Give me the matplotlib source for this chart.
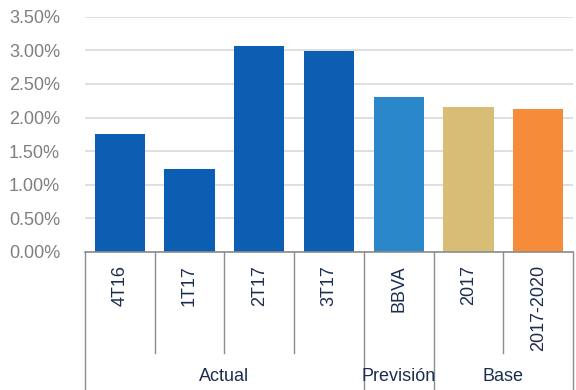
import matplotlib
matplotlib.use("Agg")

import matplotlib.pyplot as plt
import matplotlib.transforms as mtransforms
import numpy as np

plt.rcParams["font.family"] = ["Liberation Sans", "DejaVu Sans"]

categories = ["4T16", "1T17", "2T17", "3T17", "BBVA", "2017", "2017-2020"]
values = [1.76, 1.23, 3.07, 2.99, 2.31, 2.16, 2.13]
groups = ["Actual", "Previsión", "Base"]
group_sizes = [4, 1, 2]
bar_colors = ["#0b5eb1", "#0b5eb1", "#0b5eb1", "#0b5eb1", "#2a87c9", "#d8bd77", "#f68b3a"]
y_ticks = [0.0, 0.5, 1.0, 1.5, 2.0, 2.5, 3.0, 3.5]

label_color = "#1b2d4f"
grid_color = "#d9d9d9"
axis_color = "#8c8c8c"

fig = plt.figure(figsize=(5.76, 3.9), dpi=100)
ax = fig.add_axes([85 / 576, 138 / 390, 488 / 576, 235.3 / 390])

x = np.arange(len(categories))
ax.bar(x, values, width=0.72, color=bar_colors, zorder=3)

ax.set_xlim(-0.5, len(categories) - 0.5)
ax.set_ylim(0, 3.5)
ax.set_yticks(y_ticks)
ax.set_yticklabels([f"{v:.2f}%" for v in y_ticks], fontsize=13, color="#7f7f7f")
ax.tick_params(axis="y", length=0, pad=18)
ax.set_xticks([])
ax.grid(axis="y", color=grid_color, linewidth=1.2, zorder=0)

for side in ["left", "right", "top"]:
    ax.spines[side].set_visible(False)
ax.spines["bottom"].set_color(axis_color)
ax.spines["bottom"].set_linewidth(1.2)
ax.spines["bottom"].set_zorder(4)

trans = mtransforms.blended_transform_factory(ax.transData, ax.transAxes)

# category labels
for xi, cat in zip(x, categories):
    ax.text(xi, -0.055, cat, rotation=90, ha="center", va="top", fontsize=13,
            color=label_color, transform=trans)

# separators: group boundaries run to the bottom, inner ones stop short
boundaries = np.cumsum([0] + group_sizes) - 0.5
for b in np.arange(len(categories) + 1) - 0.5:
    bottom = -0.586 if b in boundaries else -0.43
    ax.plot([b, b], [0, bottom], color=axis_color, linewidth=1.0,
            transform=trans, clip_on=False)

# group labels
for g, start, end in zip(groups, boundaries[:-1], boundaries[1:]):
    ax.text((start + end) / 2, -0.53, g, ha="center", va="center", fontsize=13,
            color=label_color, transform=trans)

fig.savefig("out.png", dpi=100)
